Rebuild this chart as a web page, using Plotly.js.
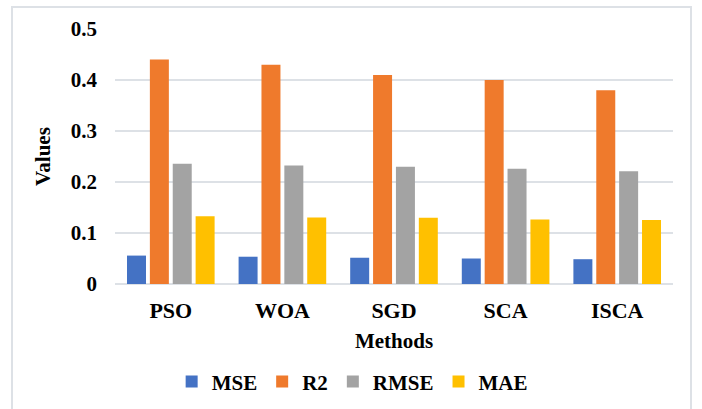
<!DOCTYPE html>
<html>
<head>
<meta charset="utf-8">
<script src="https://cdn.plot.ly/plotly-3.0.1.min.js"></script>
<style>
  html, body { margin: 0; padding: 0; background: #ffffff; }
  #wrap { position: relative; width: 702px; height: 409px; overflow: hidden; }
  #chart { position: absolute; left: 0; top: 0; width: 702px; height: 409px; }
  #frame { position: absolute; left: 11px; top: 6px; width: 681px; height: 420px;
           border: 2px solid #DDE1E6; pointer-events: none; box-sizing: border-box; }
</style>
</head>
<body>
<div id="wrap">
  <div id="chart"></div>
  <div id="frame"></div>
</div>
<script>
const methods = ["PSO", "WOA", "SGD", "SCA", "ISCA"];
const mseValues  = [0.0557, 0.0535, 0.0515, 0.0500, 0.0486];
const r2Values   = [0.440, 0.430, 0.410, 0.400, 0.380];
const rmseValues = [0.2356, 0.2325, 0.2300, 0.2258, 0.2210];
const maeValues  = [0.1330, 0.1305, 0.1300, 0.1266, 0.1254];
const seriesNames = ["MSE", "R2", "RMSE", "MAE"];
const seriesColors = ["#4472C4", "#EF7A2C", "#A3A3A3", "#FFC000"];

const allValues = [mseValues, r2Values, rmseValues, maeValues];
const traces = allValues.map((vals, i) => ({
  type: "bar",
  name: seriesNames[i],
  x: methods,
  y: vals,
  marker: { color: seriesColors[i], line: { width: 0 } },
  hoverinfo: "x+y+name"
}));

const fontFamily = "Liberation Serif, Times New Roman, serif";

const layout = {
  width: 702,
  height: 409,
  margin: { l: 115, r: 29, t: 29, b: 125, autoexpand: false },
  paper_bgcolor: "#ffffff",
  plot_bgcolor: "#ffffff",
  barmode: "group",
  bargap: 0.18,
  bargroupgap: 0.17,
  font: { family: fontFamily, color: "#000000", size: 21, weight: "bold" },
  xaxis: {
    type: "category",
    automargin: false,
    showgrid: false,
    showline: false,
    zeroline: false,
    ticks: "",
    ticklabelstandoff: 11,
    tickfont: { family: fontFamily, size: 22, color: "#000000", weight: "bold" },
    title: { text: "Methods", standoff: 11,
             font: { family: fontFamily, size: 21, color: "#000000", weight: "bold" } }
  },
  yaxis: {
    automargin: false,
    range: [0, 0.5],
    dtick: 0.1,
    tick0: 0,
    showgrid: true,
    gridcolor: "#DDE1E6",
    gridwidth: 2,
    zeroline: true,
    zerolinecolor: "#DDE1E6",
    zerolinewidth: 2,
    showline: false,
    ticks: "",
    ticklabelstandoff: 17,
    tickfont: { family: fontFamily, size: 21, color: "#000000", weight: "bold" },
    title: { text: "Values", standoff: 14,
             font: { family: fontFamily, size: 21, color: "#000000", weight: "bold" } }
  },
  showlegend: true,
  legend: {
    orientation: "h",
    x: 0.425,
    xanchor: "center",
    y: -0.384,
    yanchor: "middle",
    font: { family: fontFamily, size: 21, color: "#000000", weight: "bold" },
    itemwidth: 30,
    traceorder: "normal"
  }
};

Plotly.newPlot("chart", traces, layout, { displayModeBar: false, staticPlot: true });
</script>
</body>
</html>
